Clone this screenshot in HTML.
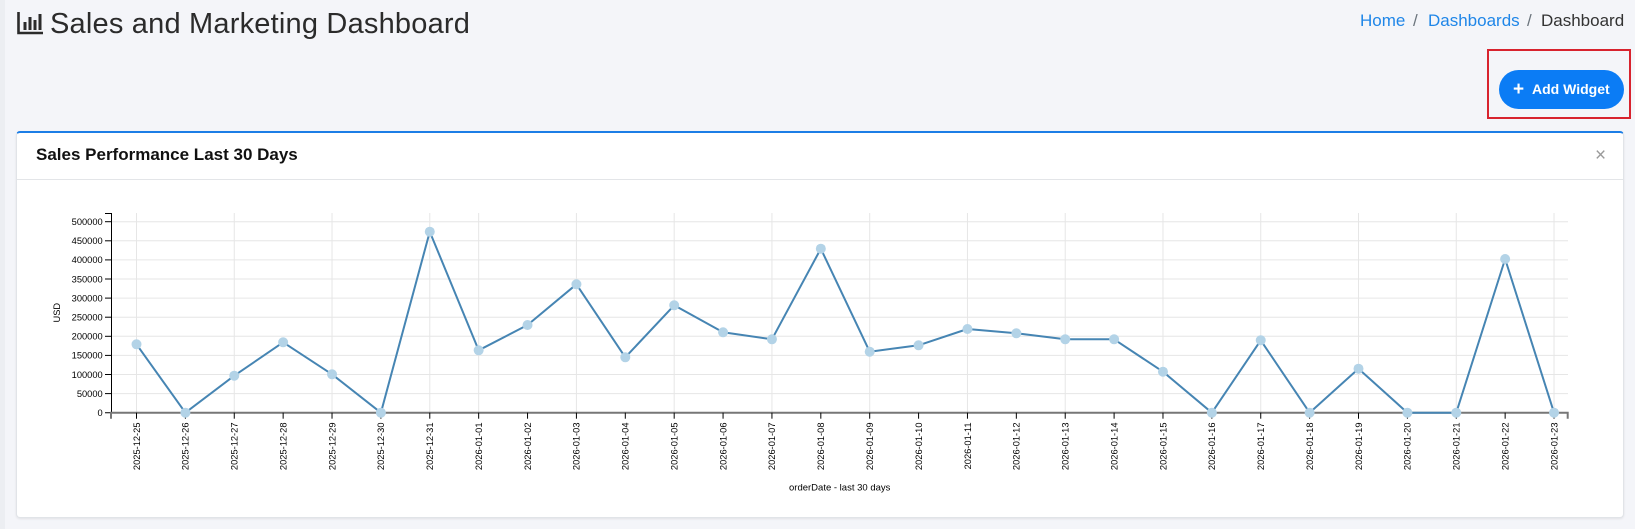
<!DOCTYPE html>
<html>
<head>
<meta charset="utf-8">
<style>
  html,body{margin:0;padding:0;}
  body{width:1635px;height:529px;overflow:hidden;background:#f4f5f9;position:relative;font-family:"Liberation Sans",Arial,sans-serif;}
  .strip{position:absolute;left:0;top:0;width:5px;height:529px;background:#eceef2;}
  .title{position:absolute;left:50px;top:4px;font-size:29px;color:#2b2b2b;letter-spacing:0.2px;white-space:nowrap;line-height:40px;}
  .bc{position:absolute;top:9px;font-size:17px;line-height:24px;white-space:nowrap;}
  .link{color:#1f86e8;}
  .sep{color:#6c757d;}
  .dark{color:#333;}
  .redbox{position:absolute;left:1487px;top:49px;width:140px;height:66px;border:2px solid #d8232e;}
  .btn{position:absolute;left:1499px;top:70px;width:125px;height:39px;border-radius:20px;background:#0b7cf5;color:#fff;font-weight:bold;font-size:14px;line-height:39px;white-space:nowrap;}
  .card{position:absolute;left:16px;top:131px;width:1606px;height:384px;background:#fff;border:1px solid #e1e4e8;border-top:2px solid #1c7ee6;border-radius:4px;box-shadow:0 1px 2px rgba(0,0,0,0.08);}
  .card-title{position:absolute;left:19px;top:10px;font-size:17px;font-weight:bold;color:#111;white-space:nowrap;line-height:24px;}
  .hr{position:absolute;left:0;top:46px;width:100%;height:1px;background:#e3e5e8;}
  .close{position:absolute;left:1578px;top:12px;font-size:19px;color:#9a9a9a;line-height:22px;}
  svg{position:absolute;left:0;top:0;}
</style>
</head>
<body>
<div class="strip"></div>
<svg width="50" height="40" style="left:0;top:0">
  <path d="M18.5 12 V33 H43" stroke="#2b2b2b" stroke-width="2.6" fill="none"/>
  <rect x="23.5" y="22" width="3" height="8" fill="#2b2b2b"/>
  <rect x="28.5" y="17" width="3" height="13" fill="#2b2b2b"/>
  <rect x="33.5" y="20" width="3" height="10" fill="#2b2b2b"/>
  <rect x="38.5" y="14" width="3" height="16" fill="#2b2b2b"/>
</svg>
<div class="title">Sales and Marketing Dashboard</div>

<div class="bc link" style="left:1360px">Home</div>
<div class="bc sep" style="left:1413px">/</div>
<div class="bc link" style="left:1428px">Dashboards</div>
<div class="bc sep" style="left:1527px">/</div>
<div class="bc dark" style="left:1541px">Dashboard</div>

<div class="redbox"></div>
<div class="btn"><span style="position:absolute;left:14px;font-size:19px;">+</span><span style="position:absolute;left:33px;">Add Widget</span></div>

<div class="card">
  <div class="card-title">Sales Performance Last 30 Days</div>
  <div class="close">×</div>
  <div class="hr"></div>
</div>

<svg width="1635" height="529" viewBox="0 0 1635 529" font-family="Liberation Sans, Arial, sans-serif">
  <g id="grid" stroke="#e6e6e6" stroke-width="1">
    <!-- horizontal -->
    <line x1="111" x2="1568" y1="221.7" y2="221.7"/>
    <line x1="111" x2="1568" y1="240.8" y2="240.8"/>
    <line x1="111" x2="1568" y1="259.9" y2="259.9"/>
    <line x1="111" x2="1568" y1="279.0" y2="279.0"/>
    <line x1="111" x2="1568" y1="298.1" y2="298.1"/>
    <line x1="111" x2="1568" y1="317.2" y2="317.2"/>
    <line x1="111" x2="1568" y1="336.3" y2="336.3"/>
    <line x1="111" x2="1568" y1="355.4" y2="355.4"/>
    <line x1="111" x2="1568" y1="374.5" y2="374.5"/>
    <line x1="111" x2="1568" y1="393.6" y2="393.6"/>
    <!-- vertical -->
    <line y1="213" y2="412.7" x1="136.5" x2="136.5"/>
    <line y1="213" y2="412.7" x1="234.26" x2="234.26"/>
    <line y1="213" y2="412.7" x1="332.02" x2="332.02"/>
    <line y1="213" y2="412.7" x1="429.78" x2="429.78"/>
    <line y1="213" y2="412.7" x1="478.66" x2="478.66"/>
    <line y1="213" y2="412.7" x1="576.42" x2="576.42"/>
    <line y1="213" y2="412.7" x1="674.18" x2="674.18"/>
    <line y1="213" y2="412.7" x1="771.94" x2="771.94"/>
    <line y1="213" y2="412.7" x1="869.7" x2="869.7"/>
    <line y1="213" y2="412.7" x1="967.46" x2="967.46"/>
    <line y1="213" y2="412.7" x1="1065.22" x2="1065.22"/>
    <line y1="213" y2="412.7" x1="1162.98" x2="1162.98"/>
    <line y1="213" y2="412.7" x1="1260.74" x2="1260.74"/>
    <line y1="213" y2="412.7" x1="1358.5" x2="1358.5"/>
    <line y1="213" y2="412.7" x1="1456.26" x2="1456.26"/>
    <line y1="213" y2="412.7" x1="1554.02" x2="1554.02"/>
  </g>

  <!-- y axis -->
  <path d="M105 213.5 H111.5 V412.7 H105" stroke="#000" stroke-width="1" fill="none"/>
  <g stroke="#000" stroke-width="1">
    <line x1="105" x2="111" y1="221.7" y2="221.7"/>
    <line x1="105" x2="111" y1="240.8" y2="240.8"/>
    <line x1="105" x2="111" y1="259.9" y2="259.9"/>
    <line x1="105" x2="111" y1="279.0" y2="279.0"/>
    <line x1="105" x2="111" y1="298.1" y2="298.1"/>
    <line x1="105" x2="111" y1="317.2" y2="317.2"/>
    <line x1="105" x2="111" y1="336.3" y2="336.3"/>
    <line x1="105" x2="111" y1="355.4" y2="355.4"/>
    <line x1="105" x2="111" y1="374.5" y2="374.5"/>
    <line x1="105" x2="111" y1="393.6" y2="393.6"/>
  </g>
  <g font-size="9.3" fill="#000" text-anchor="end">
    <text x="102.7" y="225">500000</text>
    <text x="102.7" y="244.1">450000</text>
    <text x="102.7" y="263.2">400000</text>
    <text x="102.7" y="282.3">350000</text>
    <text x="102.7" y="301.4">300000</text>
    <text x="102.7" y="320.5">250000</text>
    <text x="102.7" y="339.6">200000</text>
    <text x="102.7" y="358.7">150000</text>
    <text x="102.7" y="377.8">100000</text>
    <text x="102.7" y="396.9">50000</text>
    <text x="102.7" y="416">0</text>
  </g>
  <text transform="translate(60,312.7) rotate(-90)" font-size="9.3" text-anchor="middle" fill="#000">USD</text>

  <!-- x axis -->
  <path d="M111 418.7 V412.7 H1567.7 V418.7" stroke="#777" stroke-width="2" fill="none"/>
  <g stroke="#000" stroke-width="1">
    <line x1="136.5" x2="136.5" y1="412.7" y2="418.7"/>
    <line x1="185.38" x2="185.38" y1="412.7" y2="418.7"/>
    <line x1="234.26" x2="234.26" y1="412.7" y2="418.7"/>
    <line x1="283.14" x2="283.14" y1="412.7" y2="418.7"/>
    <line x1="332.02" x2="332.02" y1="412.7" y2="418.7"/>
    <line x1="380.9" x2="380.9" y1="412.7" y2="418.7"/>
    <line x1="429.78" x2="429.78" y1="412.7" y2="418.7"/>
    <line x1="478.66" x2="478.66" y1="412.7" y2="418.7"/>
    <line x1="527.54" x2="527.54" y1="412.7" y2="418.7"/>
    <line x1="576.42" x2="576.42" y1="412.7" y2="418.7"/>
    <line x1="625.3" x2="625.3" y1="412.7" y2="418.7"/>
    <line x1="674.18" x2="674.18" y1="412.7" y2="418.7"/>
    <line x1="723.06" x2="723.06" y1="412.7" y2="418.7"/>
    <line x1="771.94" x2="771.94" y1="412.7" y2="418.7"/>
    <line x1="820.82" x2="820.82" y1="412.7" y2="418.7"/>
    <line x1="869.7" x2="869.7" y1="412.7" y2="418.7"/>
    <line x1="918.58" x2="918.58" y1="412.7" y2="418.7"/>
    <line x1="967.46" x2="967.46" y1="412.7" y2="418.7"/>
    <line x1="1016.34" x2="1016.34" y1="412.7" y2="418.7"/>
    <line x1="1065.22" x2="1065.22" y1="412.7" y2="418.7"/>
    <line x1="1114.1" x2="1114.1" y1="412.7" y2="418.7"/>
    <line x1="1162.98" x2="1162.98" y1="412.7" y2="418.7"/>
    <line x1="1211.86" x2="1211.86" y1="412.7" y2="418.7"/>
    <line x1="1260.74" x2="1260.74" y1="412.7" y2="418.7"/>
    <line x1="1309.62" x2="1309.62" y1="412.7" y2="418.7"/>
    <line x1="1358.5" x2="1358.5" y1="412.7" y2="418.7"/>
    <line x1="1407.38" x2="1407.38" y1="412.7" y2="418.7"/>
    <line x1="1456.26" x2="1456.26" y1="412.7" y2="418.7"/>
    <line x1="1505.14" x2="1505.14" y1="412.7" y2="418.7"/>
    <line x1="1554.02" x2="1554.02" y1="412.7" y2="418.7"/>
  </g>
  <g font-size="9.3" fill="#000" text-anchor="end">
    <text transform="translate(139.8,422.5) rotate(-90)">2025-12-25</text>
    <text transform="translate(188.7,422.5) rotate(-90)">2025-12-26</text>
    <text transform="translate(237.6,422.5) rotate(-90)">2025-12-27</text>
    <text transform="translate(286.4,422.5) rotate(-90)">2025-12-28</text>
    <text transform="translate(335.3,422.5) rotate(-90)">2025-12-29</text>
    <text transform="translate(384.2,422.5) rotate(-90)">2025-12-30</text>
    <text transform="translate(433.1,422.5) rotate(-90)">2025-12-31</text>
    <text transform="translate(482.0,422.5) rotate(-90)">2026-01-01</text>
    <text transform="translate(530.8,422.5) rotate(-90)">2026-01-02</text>
    <text transform="translate(579.7,422.5) rotate(-90)">2026-01-03</text>
    <text transform="translate(628.6,422.5) rotate(-90)">2026-01-04</text>
    <text transform="translate(677.5,422.5) rotate(-90)">2026-01-05</text>
    <text transform="translate(726.4,422.5) rotate(-90)">2026-01-06</text>
    <text transform="translate(775.2,422.5) rotate(-90)">2026-01-07</text>
    <text transform="translate(824.1,422.5) rotate(-90)">2026-01-08</text>
    <text transform="translate(873.0,422.5) rotate(-90)">2026-01-09</text>
    <text transform="translate(921.9,422.5) rotate(-90)">2026-01-10</text>
    <text transform="translate(970.8,422.5) rotate(-90)">2026-01-11</text>
    <text transform="translate(1019.6,422.5) rotate(-90)">2026-01-12</text>
    <text transform="translate(1068.5,422.5) rotate(-90)">2026-01-13</text>
    <text transform="translate(1117.4,422.5) rotate(-90)">2026-01-14</text>
    <text transform="translate(1166.3,422.5) rotate(-90)">2026-01-15</text>
    <text transform="translate(1215.2,422.5) rotate(-90)">2026-01-16</text>
    <text transform="translate(1264.0,422.5) rotate(-90)">2026-01-17</text>
    <text transform="translate(1312.9,422.5) rotate(-90)">2026-01-18</text>
    <text transform="translate(1361.8,422.5) rotate(-90)">2026-01-19</text>
    <text transform="translate(1410.7,422.5) rotate(-90)">2026-01-20</text>
    <text transform="translate(1459.6,422.5) rotate(-90)">2026-01-21</text>
    <text transform="translate(1508.4,422.5) rotate(-90)">2026-01-22</text>
    <text transform="translate(1557.3,422.5) rotate(-90)">2026-01-23</text>
  </g>
  <text x="839.7" y="490.5" font-size="9.5" text-anchor="middle" fill="#000">orderDate - last 30 days</text>

  <!-- series -->
  <polyline fill="none" stroke="#4685b3" stroke-width="2" stroke-linejoin="round"
    points="136.5,344.3 185.38,412.7 234.26,375.7 283.14,342.3 332.02,374.3 380.9,412.7 429.78,231.7 478.66,350.3 527.54,325 576.42,284.3 625.3,357.3 674.18,305.3 723.06,332.3 771.94,339.3 820.82,248.7 869.7,351.7 918.58,345.3 967.46,329 1016.34,333.3 1065.22,339.3 1114.1,339.3 1162.98,371.7 1211.86,412.7 1260.74,340.3 1309.62,412.7 1358.5,368.7 1407.38,412.7 1456.26,412.7 1505.14,259 1554.02,412.7"/>
  <g fill="#b3d3e7">
    <circle cx="136.5" cy="344.3" r="5"/>
    <circle cx="185.38" cy="412.7" r="5"/>
    <circle cx="234.26" cy="375.7" r="5"/>
    <circle cx="283.14" cy="342.3" r="5"/>
    <circle cx="332.02" cy="374.3" r="5"/>
    <circle cx="380.9" cy="412.7" r="5"/>
    <circle cx="429.78" cy="231.7" r="5"/>
    <circle cx="478.66" cy="350.3" r="5"/>
    <circle cx="527.54" cy="325" r="5"/>
    <circle cx="576.42" cy="284.3" r="5"/>
    <circle cx="625.3" cy="357.3" r="5"/>
    <circle cx="674.18" cy="305.3" r="5"/>
    <circle cx="723.06" cy="332.3" r="5"/>
    <circle cx="771.94" cy="339.3" r="5"/>
    <circle cx="820.82" cy="248.7" r="5"/>
    <circle cx="869.7" cy="351.7" r="5"/>
    <circle cx="918.58" cy="345.3" r="5"/>
    <circle cx="967.46" cy="329" r="5"/>
    <circle cx="1016.34" cy="333.3" r="5"/>
    <circle cx="1065.22" cy="339.3" r="5"/>
    <circle cx="1114.1" cy="339.3" r="5"/>
    <circle cx="1162.98" cy="371.7" r="5"/>
    <circle cx="1211.86" cy="412.7" r="5"/>
    <circle cx="1260.74" cy="340.3" r="5"/>
    <circle cx="1309.62" cy="412.7" r="5"/>
    <circle cx="1358.5" cy="368.7" r="5"/>
    <circle cx="1407.38" cy="412.7" r="5"/>
    <circle cx="1456.26" cy="412.7" r="5"/>
    <circle cx="1505.14" cy="259" r="5"/>
    <circle cx="1554.02" cy="412.7" r="5"/>
  </g>
</svg>
</body>
</html>
